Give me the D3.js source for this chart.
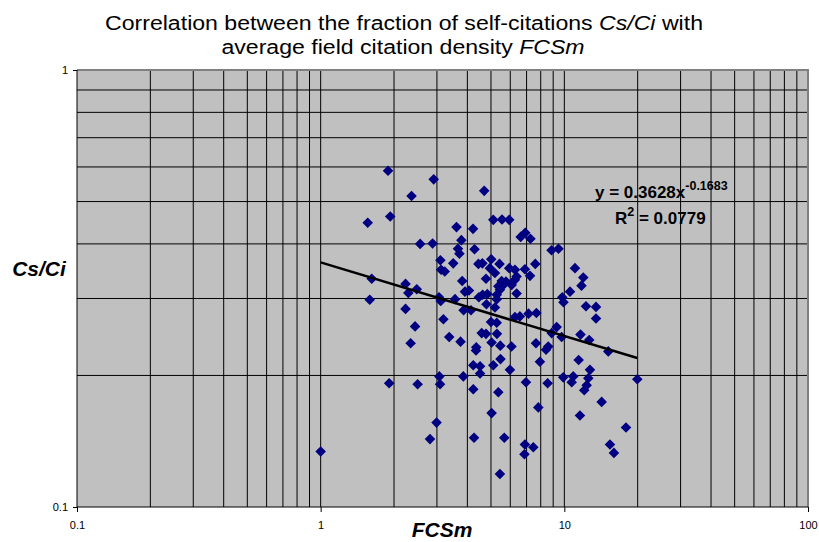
<!DOCTYPE html>
<html><head><meta charset="utf-8">
<script src="https://cdn.jsdelivr.net/npm/d3@7"></script>
<style>
html,body{margin:0;padding:0;background:#fff;}
text{font-family:"Liberation Sans",Arial,sans-serif;}
</style></head>
<body><svg id="c" width="819" height="542"></svg>
<script>
const FCSm = [
1.00,1.56,1.59,1.62,1.89,1.93,2.23,2.23,2.36,2.29,2.48,2.34,2.44,2.56,2.88,2.91,1.91,2.50,2.99,2.81,3.07,3.09,
3.10,3.12,3.23,3.06,3.11,3.19,3.37,3.75,3.50,3.61,3.78,3.66,3.71,3.81,3.91,4.06,3.56,3.86,4.14,3.85,4.26,4.23,4.23,4.35,4.34,
4.22,4.28,4.69,4.44,4.61,5.01,4.95,5.19,4.77,4.46,4.62,4.83,4.79,5.19,5.28,5.44,5.62,5.76,5.53,5.36,5.28,5.00,5.28,4.58,4.77,5.29,5.03,5.46,4.51,4.51,5.11,5.47,5.36,5.03,5.11,5.42,5.44,5.67,
5.55,5.94,5.94,6.27,6.37,6.08,6.27,6.37,6.27,6.57,6.07,5.98,6.62,6.91,7.26,6.89,7.23,7.60,7.13,7.68,7.65,6.96,7.82,6.89,7.46,6.86,
8.86,9.46,11.06,11.96,11.76,10.55,9.81,9.92,12.27,13.49,13.49,9.30,8.87,9.75,11.65,12.65,15.15,8.41,8.59,7.94,11.45,12.74,9.90,10.88,10.72,12.54,12.35,12.07,8.54,19.92,14.23,11.59,17.91,15.39,15.98];
const CsCi = [
0.134,0.447,0.298,0.333,0.588,0.462,0.324,0.284,0.515,0.309,0.315,0.237,0.259,0.400,0.401,0.562,0.192,0.191,0.156,0.143,0.199,0.191,
0.367,0.349,0.346,0.302,0.296,0.269,0.245,0.239,0.361,0.437,0.408,0.390,0.380,0.329,0.311,0.313,0.299,0.282,0.282,0.199,0.144,0.186,0.211,0.232,0.228,
0.433,0.389,0.529,0.360,0.361,0.369,0.352,0.343,0.333,0.302,0.306,0.307,0.291,0.286,0.306,0.314,0.322,0.328,0.329,0.320,0.299,0.265,0.264,0.250,0.249,0.249,0.238,0.234,0.210,0.202,0.211,0.218,0.183,0.164,0.454,0.360,0.119,0.144,
0.455,0.454,0.352,0.349,0.337,0.322,0.331,0.308,0.272,0.273,0.233,0.206,0.415,0.424,0.411,0.350,0.338,0.360,0.277,0.278,0.237,0.193,0.169,0.139,0.137,0.132,
0.387,0.390,0.352,0.335,0.321,0.311,0.302,0.294,0.288,0.287,0.270,0.258,0.250,0.245,0.248,0.241,0.227,0.229,0.233,0.215,0.217,0.206,0.198,0.199,0.193,0.197,0.190,0.185,0.192,0.196,0.174,0.162,0.152,0.139,0.133];
const xTickLabels = ["0.1","1","10","100"];
const yTickLabels = ["0.1","1"];
const trendA = 0.3628, trendB = -0.1683, trendR2 = "0.0779";

const svg = d3.select("#c");
const L=77, R=808, T=70, B=507;
const x = d3.scaleLog().domain([0.1,100]).range([L,R]);
const y = d3.scaleLog().domain([0.1,1]).range([B,T]);

svg.append("rect").attr("x",L).attr("y",T).attr("width",R-L).attr("height",B-T).attr("fill","#C0C0C0");

const xGrid = x.ticks().filter(v => v>0.1+1e-9 && v<100-1e-9);
svg.append("g").selectAll("line").data(xGrid).join("line")
  .attr("x1",d=>x(d)).attr("x2",d=>x(d)).attr("y1",T).attr("y2",B)
  .attr("stroke","#000").attr("stroke-width",1);
const yGrid = y.ticks().filter(v => v>0.1+1e-9 && v<1-1e-9);
svg.append("g").selectAll("line").data(yGrid).join("line")
  .attr("x1",L).attr("x2",R).attr("y1",d=>y(d)).attr("y2",d=>y(d))
  .attr("stroke","#000").attr("stroke-width",1);

svg.append("path").attr("d",`M${L},${T}H${R}V${B}`).attr("fill","none").attr("stroke","#808080").attr("stroke-width",2);

const xAxis = d3.axisBottom(x).tickValues(xTickLabels.map(Number)).tickFormat((d,i)=>xTickLabels[i]).tickSize(5).tickPadding(5);
const gx = svg.append("g").attr("transform",`translate(0,${B})`).call(xAxis);
gx.select(".domain").attr("stroke","#000").attr("d",`M${L},0H${R}`);
gx.selectAll("text").attr("font-size",11).attr("fill","#000").attr("font-family","Liberation Sans, Arial").attr("dy","1.05em");
const yAxis = d3.axisLeft(y).tickValues(yTickLabels.map(Number)).tickFormat((d,i)=>yTickLabels[i]).tickSize(4).tickPadding(5);
const gy = svg.append("g").attr("transform",`translate(${L},0)`).call(yAxis);
gy.select(".domain").attr("stroke","#000").attr("d",`M0,${T}V${B}`);
gy.selectAll("text").attr("font-size",11).attr("fill","#000").attr("font-family","Liberation Sans, Arial");

const pts = FCSm.map((v,i)=>({x:v,y:CsCi[i]}));
svg.append("g").selectAll("path").data(pts).join("path")
  .attr("d", d3.symbol(d3.symbolSquare, 56)())
  .attr("transform", d=>`translate(${x(d.x)},${y(d.y)}) rotate(45)`)
  .attr("fill","#000080");

const x0 = d3.min(FCSm), x1 = d3.max(FCSm);
const trendPts = [x0, x1];
svg.append("line")
  .attr("x1",x(trendPts[0])).attr("y1",y(trendA*Math.pow(trendPts[0],trendB)))
  .attr("x2",x(trendPts[1])).attr("y2",y(trendA*Math.pow(trendPts[1],trendB)))
  .attr("stroke","#000").attr("stroke-width",2.5);

const eq = svg.append("text").attr("x",595).attr("y",198).attr("font-size",17).attr("font-weight","bold");
eq.append("tspan").text("y = " + trendA + "x");
eq.append("tspan").attr("dy",-8).attr("font-size",12.5).text(String(trendB));
const r2 = svg.append("text").attr("x",615).attr("y",224).attr("font-size",17).attr("font-weight","bold");
r2.append("tspan").text("R");
r2.append("tspan").attr("dy",-8).attr("font-size",12.5).text("2");
r2.append("tspan").attr("dy",8).text(" = " + trendR2);

const t1 = svg.append("text").attr("transform","translate(404,30) scale(1.1,1)").attr("text-anchor","middle").attr("font-size",21);
t1.append("tspan").text("Correlation between the fraction of self-citations ");
t1.append("tspan").attr("font-style","italic").text("Cs/Ci");
t1.append("tspan").text(" with");
const t2 = svg.append("text").attr("transform","translate(403,54) scale(1.1,1)").attr("text-anchor","middle").attr("font-size",21);
t2.append("tspan").text("average field citation density ");
t2.append("tspan").attr("font-style","italic").text("FCSm");

svg.append("text").attr("x",442).attr("y",537).attr("text-anchor","middle").attr("font-size",21)
  .attr("font-weight","bold").attr("font-style","italic").text("FCSm");
svg.append("text").attr("x",39).attr("y",276).attr("text-anchor","middle").attr("font-size",21)
  .attr("font-weight","bold").attr("font-style","italic").text("Cs/Ci");
</script></body></html>
